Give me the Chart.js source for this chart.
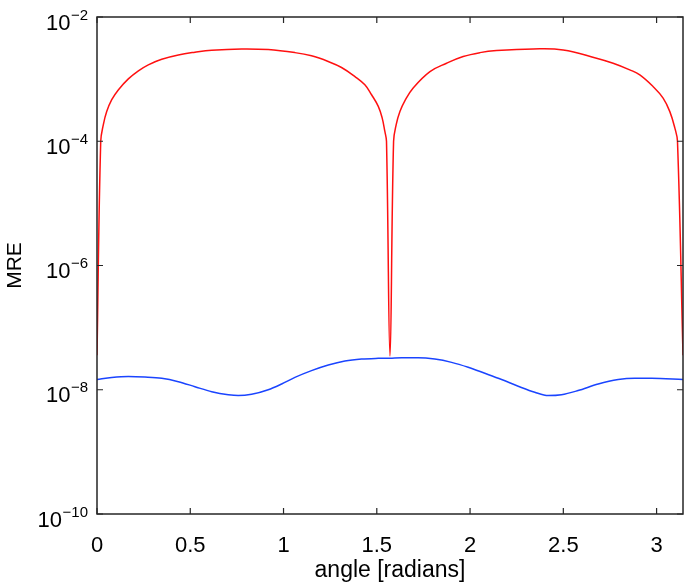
<!DOCTYPE html>
<html>
<head>
<meta charset="utf-8">
<script src="https://cdn.jsdelivr.net/npm/chart.js@4/dist/chart.umd.min.js"></script>
<style>
html,body{margin:0;padding:0;background:#fff}
canvas{display:block}
</style>
</head>
<body>
<canvas id="grafico" width="685" height="588"></canvas>
<script>

/* =========================
DATOS
========================= */

const anguloRojo = [0, 0.02, 0.034, 0.052, 0.079, 0.114, 0.168, 0.222, 0.275, 0.347, 0.436, 0.525, 0.615, 0.775, 0.918, 1.061, 1.150, 1.240, 1.311, 1.383, 1.436, 1.472, 1.508, 1.529, 1.543, 1.552, 1.5708,
1.590, 1.604, 1.624, 1.651, 1.695, 1.785, 1.874, 1.963, 2.053, 2.142, 2.338, 2.499, 2.678, 2.767, 2.856, 2.910, 2.981, 3.035, 3.071, 3.098, 3.112, 3.1416]
const mreRojo = [3.6e-8, 1.0e-4, 1.85e-4, 3.0e-4, 4.66e-4, 6.7e-4, 1.01e-3, 1.36e-3, 1.70e-3, 2.09e-3, 2.45e-3, 2.71e-3, 2.92e-3, 3.06e-3, 2.99e-3, 2.67e-3, 2.37e-3, 1.92e-3, 1.54e-3, 1.10e-3, 8.1e-4, 5.6e-4, 3.64e-4, 2.36e-4, 1.45e-4, 1.0e-4, 3.5e-8,
1.0e-4, 1.85e-4, 3.0e-4, 4.5e-4, 7.2e-4, 1.32e-3, 1.80e-3, 2.31e-3, 2.67e-3, 2.88e-3, 3.06e-3, 2.95e-3, 2.17e-3, 1.80e-3, 1.41e-3, 1.17e-3, 7.6e-4, 4.95e-4, 3.0e-4, 1.63e-4, 1.0e-4, 3.6e-8]

const anguloAzul = [0, 0.079, 0.168, 0.257, 0.347, 0.436, 0.525, 0.615, 0.704, 0.757, 0.829, 0.918, 0.990, 1.061, 1.150, 1.240, 1.329, 1.418, 1.508, 1.5708,
1.633, 1.722, 1.811, 1.901, 1.990, 2.079, 2.169, 2.258, 2.347, 2.419, 2.490, 2.579, 2.687, 2.794, 2.883, 2.973, 3.1416]
const mreAzul = [1.46e-8, 1.57e-8, 1.63e-8, 1.60e-8, 1.53e-8, 1.35e-8, 1.12e-8, 9.3e-9, 8.3e-9, 8.05e-9, 8.45e-9, 1.0e-8, 1.24e-8, 1.58e-8, 2.03e-8, 2.50e-8, 2.90e-8, 3.12e-8, 3.2e-8, 3.22e-8,
3.28e-8, 3.28e-8, 3.12e-8, 2.76e-8, 2.30e-8, 1.84e-8, 1.46e-8, 1.14e-8, 9.1e-9, 8.05e-9, 8.3e-9, 9.7e-9, 1.24e-8, 1.46e-8, 1.53e-8, 1.53e-8, 1.46e-8]

const ticksX = [0, 0.5, 1, 1.5, 2, 2.5, 3]
const etiquetasX = ["0", "0.5", "1", "1.5", "2", "2.5", "3"]
const ticksY = [1e-10, 1e-8, 1e-6, 1e-4, 1e-2]
const etiquetasY = ["-10", "-8", "-6", "-4", "-2"]

const fuente = "'Liberation Sans', Arial, Helvetica, sans-serif"
const colorEje = "#262626"

function puntos(xs, ys){
return xs.map((x,i) => ({x:x, y:ys[i]}))
}


/* =========================
CAJA, MARCAS Y ETIQUETAS Y
========================= */

const cajaPlugin = {

id:"caja",

afterDraw(chart){

const ctx = chart.ctx
const a = chart.chartArea
const sx = chart.scales.x
const sy = chart.scales.y
const largo = 6

ctx.save()
ctx.strokeStyle = colorEje
ctx.lineWidth = 1.5
ctx.strokeRect(a.left, a.top, a.right-a.left, a.bottom-a.top)

ctx.lineWidth = 1.2
ctx.beginPath()
ticksX.forEach(function(v){
let x = sx.getPixelForValue(v)
ctx.moveTo(x, a.bottom); ctx.lineTo(x, a.bottom-largo)
ctx.moveTo(x, a.top); ctx.lineTo(x, a.top+largo)
})
ticksY.forEach(function(v){
let y = sy.getPixelForValue(v)
ctx.moveTo(a.left, y); ctx.lineTo(a.left+largo, y)
ctx.moveTo(a.right, y); ctx.lineTo(a.right-largo, y)
})
ctx.stroke()

// etiquetas 10 con exponente
ctx.fillStyle = "#000"
ctx.textBaseline = "alphabetic"
ticksY.forEach(function(v,i){
let y = sy.getPixelForValue(v)
let exp = etiquetasY[i].replace("-", "\u2212")
ctx.font = "15px " + fuente
let w = ctx.measureText(exp).width
let xDer = 88
ctx.textAlign = "left"
ctx.fillText(exp, xDer - w, y + 2.5)
ctx.font = "22px " + fuente
ctx.textAlign = "right"
ctx.fillText("10", xDer - w - 0.5, y + 12.5)
})

ctx.restore()

}

}


/* =========================
GRAFICO
========================= */

new Chart(document.getElementById("grafico"),{

type:"line",

data:{
datasets:[
{
label:"rojo",
data:puntos(anguloRojo, mreRojo),
borderColor:"#ff1010",
borderWidth:1.5,
pointRadius:0,
tension:0.4,
fill:false
},
{
label:"azul",
data:puntos(anguloAzul, mreAzul),
borderColor:"#1a44ff",
borderWidth:1.5,
pointRadius:0,
cubicInterpolationMode:"monotone",
fill:false
}
]
},

options:{
responsive:false,
devicePixelRatio:1,
animation:false,
layout:{padding:{left:0, right:2, top:17, bottom:0}},
plugins:{
legend:{display:false},
tooltip:{enabled:false}
},
scales:{
x:{
type:"linear",
min:0,
max:Math.PI,
grid:{display:false, drawTicks:false},
border:{display:false},
afterBuildTicks:function(scale){ scale.ticks = ticksX.map(v => ({value:v})) },
afterFit:function(scale){ scale.height = 74 },
ticks:{
autoSkip:false,
maxRotation:0,
padding:19,
color:"#000",
font:{family:fuente, size:22},
callback:function(v){ return etiquetasX[ticksX.indexOf(v)] }
},
title:{
display:true,
text:"angle [radians]",
color:"#000",
font:{family:fuente, size:23},
padding:{top:0, bottom:4}
}
},
y:{
type:"logarithmic",
min:1e-10,
max:1e-2,
grid:{display:false, drawTicks:false},
border:{display:false},
afterBuildTicks:function(scale){ scale.ticks = ticksY.map(v => ({value:v})) },
afterFit:function(scale){ scale.width = 97 },
ticks:{display:false},
title:{
display:true,
text:"MRE",
color:"#000",
font:{family:fuente, size:21},
padding:{top:3, bottom:0}
}
}
}
},

plugins:[cajaPlugin]

})

</script>
</body>
</html>
